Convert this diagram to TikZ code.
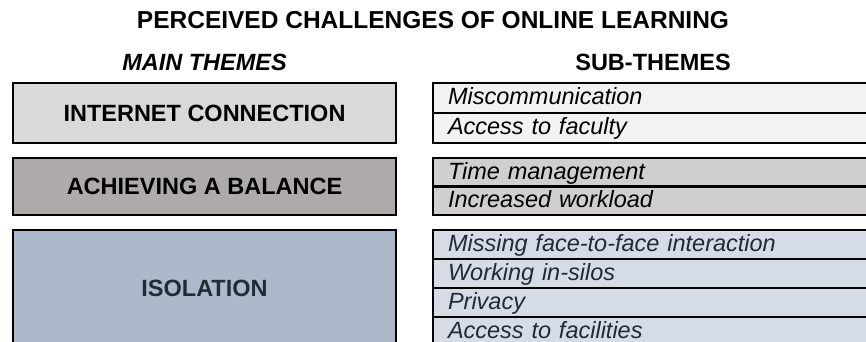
\documentclass[tikz,border=0pt]{standalone}
\usepackage{fontspec}
\setmainfont{Liberation Sans}
\usetikzlibrary{positioning}

\definecolor{mainA}{HTML}{D9D9D9}
\definecolor{mainB}{HTML}{AEAAAA}
\definecolor{mainC}{HTML}{ADB9CA}
\definecolor{subA}{HTML}{F2F2F2}
\definecolor{subB}{HTML}{D0CECE}
\definecolor{subC}{HTML}{D6DCE5}
\definecolor{slate}{HTML}{222A35}

\tikzset{
    themebox/.style={draw, line width=2.5pt, outer sep=0pt, minimum width=383pt,
        font=\fontsize{23.5}{28}\selectfont\bfseries},
    subbox/.style={draw, line width=2.5pt, outer sep=0pt, anchor=north west,
        minimum width=460pt, minimum height=#1, text width=430pt, inner xsep=15pt,
        text height=13.8pt, text depth=0pt, align=left,
        font=\fontsize{23.5}{28}\selectfont\itshape},
    subbox/.default=30pt
}

\begin{document}
\begin{tikzpicture}[x=1pt, y=-1pt]
    % Frame of the picture
    \useasboundingbox (0,0) rectangle (866,342);
    \clip (0,0) rectangle (866,342);

    % Headings
    \node[font=\fontsize{24.5}{29}\selectfont\bfseries] (title) at (433,20.5) {PERCEIVED CHALLENGES OF ONLINE LEARNING};
    \node[font=\fontsize{23.5}{28}\selectfont\bfseries\itshape] (mainhead) at (204.5,62.5) {MAIN THEMES};
    \node[font=\fontsize{23.5}{28}\selectfont\bfseries] (subhead) at (653,62.5) {SUB-THEMES};

    % Main themes
    \node[themebox, fill=mainA, minimum height=60pt] (internet) at (204.5,113) {INTERNET CONNECTION};
    \node[themebox, fill=mainB, minimum height=57pt] (balance) at (204.5,186.5) {ACHIEVING A BALANCE};
    \node[themebox, fill=mainC, minimum height=116pt, text=slate] (isolation) at (204.5,288) {ISOLATION};

    % Sub-themes of the first theme
    \node[subbox, fill=subA] (miscomm) at (433,83) {Miscommunication};
    \node[subbox, fill=subA, below=0pt of miscomm] (faculty) {Access to faculty};

    % Sub-themes of the second theme
    \node[subbox=28.5pt, fill=subB] (time) at (433,158) {Time management};
    \node[subbox=28.5pt, fill=subB, below=0pt of time] (workload) {Increased workload};

    % Sub-themes of the third theme
    \node[subbox=29pt, fill=subC, text=slate] (facetoface) at (433,230) {Missing face-to-face interaction};
    \node[subbox=29pt, fill=subC, text=slate, below=0pt of facetoface] (silos) {Working in-silos};
    \node[subbox=29pt, fill=subC, text=slate, below=0pt of silos] (privacy) {Privacy};
    \node[subbox=29pt, fill=subC, text=slate, below=0pt of privacy] (facilities) {Access to facilities};
\end{tikzpicture}
\end{document}
